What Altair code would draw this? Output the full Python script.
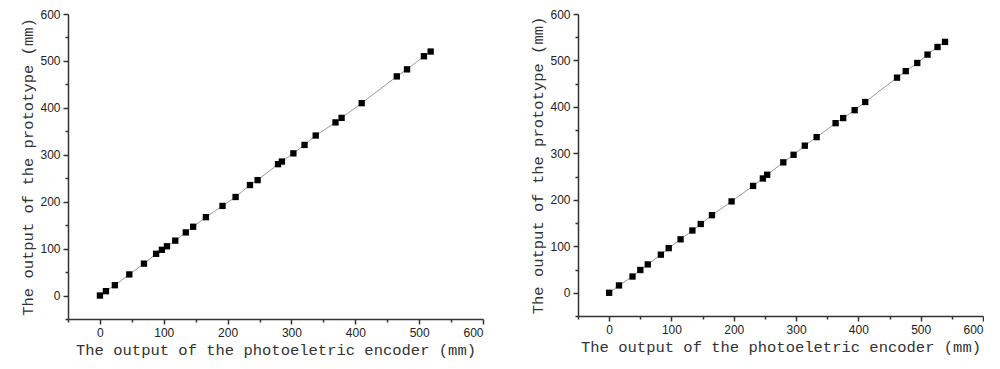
import altair as alt
import pandas as pd

# Left panel data
left_x = [0, 9.4, 23.4, 46, 69, 88, 97, 105, 118, 134.5, 146, 166, 192, 212.5, 235, 247,
          279, 285, 303, 320.5, 338, 369, 378.5, 410, 465, 481, 507.5, 518]
left_y = [0, 9.3, 22, 45, 68, 89, 97.5, 105, 117, 134.5, 146.6, 167, 191, 210, 235.5, 246,
          280, 285.6, 303, 321, 341, 369, 378.6, 410, 467, 482, 510, 520]

# Right panel data
right_x = [0, 15.8, 37.5, 50, 62, 83, 95.6, 114.6, 133.6, 147, 165, 196.5, 231, 246.7, 253.6,
           279.5, 296, 314, 333, 363.4, 375.6, 394, 411, 462, 476, 494.5, 511, 527, 539]
right_y = [0, 15.8, 35, 49, 61, 82, 96, 115, 134, 148, 167, 196.7, 230, 246, 254,
           280.7, 297, 316.6, 335, 365, 376, 393, 410.6, 463, 477, 494.6, 512.6, 529, 540]

tick_values = [-50, 0, 50, 100, 150, 200, 250, 300, 350, 400, 450, 500, 550, 600]
x_title = "The output of the photoeletric encoder (mm)"
y_title = "The output of the prototype  (mm)"

label_expr = "(datum.value % 100 == 0) ? datum.label : ''"
tick_size = {"condition": {"test": "datum.value % 100 == 0", "value": 5}, "value": 3}


def panel(xs, ys, w, h):
    df = pd.DataFrame({"x": xs, "y": ys})
    xa = alt.Axis(values=tick_values, labelExpr=label_expr, tickSize=tick_size,
                  labelOverlap=False, title=x_title, grid=False)
    ya = alt.Axis(values=tick_values, labelExpr=label_expr, tickSize=tick_size,
                  labelOverlap=False, title=y_title, grid=False)
    base = alt.Chart(df).encode(
        x=alt.X("x:Q", scale=alt.Scale(domain=[-50, 600], nice=False, zero=False), axis=xa),
        y=alt.Y("y:Q", scale=alt.Scale(domain=[-50, 600], nice=False, zero=False), axis=ya),
    )
    line = base.mark_line(color="#999999", strokeWidth=1)
    pts = base.mark_square(size=40, color="black", opacity=1)
    return alt.layer(line, pts).properties(width=w, height=h)


chart = alt.hconcat(
    panel(left_x, left_y, 415, 305),
    panel(right_x, right_y, 405, 302),
    spacing=46,
).properties(
    padding={"left": 12, "top": 0, "right": 0, "bottom": 0}
).configure_view(stroke=None).configure_axis(
    domainColor="#333333", domainWidth=1.5, tickColor="#333333", tickWidth=1.5,
    labelFont="Liberation Sans", labelFontSize=12, labelColor="#222222", labelPadding=3,
    titleFont="Liberation Mono", titleFontSize=15.5, titleFontWeight="normal", titleColor="#333333",
    titlePadding=4,
)

chart.save("out.html", embed_options={"renderer": "svg", "actions": False})
